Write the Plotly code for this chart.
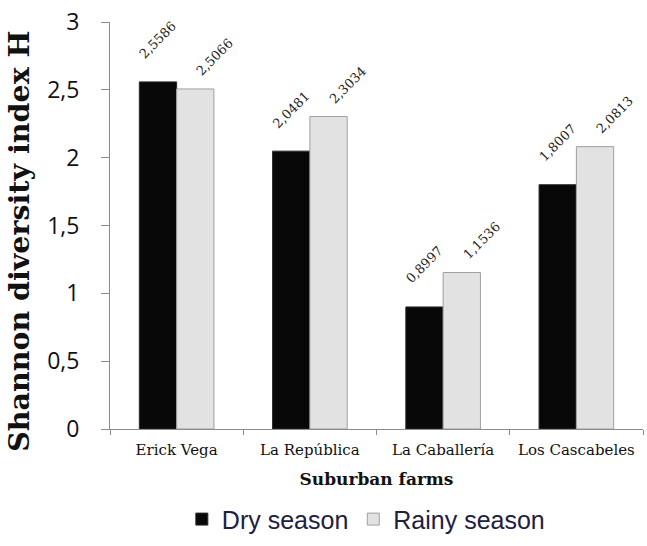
import plotly.graph_objects as go

farms = ["Erick Vega", "La República", "La Caballería", "Los Cascabeles"]
dry = [2.5586, 2.0481, 0.8997, 1.8007]
rainy = [2.5066, 2.3034, 1.1536, 2.0813]
dry_labels = ["2,5586", "2,0481", "0,8997", "1,8007"]
rainy_labels = ["2,5066", "2,3034", "1,1536", "2,0813"]

fig = go.Figure()
fig.add_trace(go.Bar(
    x=farms, y=dry, name="Dry season",
    marker=dict(color="#080808", line=dict(color="#2a2a2a", width=1)),
))
fig.add_trace(go.Bar(
    x=farms, y=rainy, name="Rainy season",
    marker=dict(color="#e2e2e2", line=dict(color="#a0a0a0", width=1)),
))

label_font = dict(family="DejaVu Serif", size=13, color="#222")
for f, v, t in zip(farms, dry, dry_labels):
    fig.add_annotation(x=f, y=v, text=t, showarrow=False, textangle=-45,
                       xanchor="center", yanchor="middle", xshift=-18.5, yshift=42,
                       font=label_font)
for f, v, t in zip(farms, rainy, rainy_labels):
    fig.add_annotation(x=f, y=v, text=t, showarrow=False, textangle=-45,
                       xanchor="center", yanchor="middle", xshift=38.5, yshift=32,
                       font=label_font)

fig.add_annotation(xref="paper", yref="paper", x=-0.171, y=0.462,
                   text="<b>Shannon diversity index H</b>", showarrow=False,
                   textangle=-90, xanchor="center", yanchor="middle",
                   font=dict(family="DejaVu Serif", size=28.5, color="#111"))

fig.update_layout(
    width=647, height=546,
    paper_bgcolor="white", plot_bgcolor="white",
    margin=dict(l=110, r=4, t=22, b=114),
    barmode="group", bargap=0.44, bargroupgap=0.0,
    separators=",.",
    showlegend=True,
    legend=dict(orientation="h", x=0.48, xanchor="center", xref="paper",
                y=-0.222, yanchor="middle",
                font=dict(family="Liberation Sans", size=25, color="#202040"),
                traceorder="normal"),
    xaxis=dict(
        automargin=False,
        showline=True, linecolor="#8c8c8c", linewidth=1,
        ticks="outside", tickson="boundaries", tickcolor="#8c8c8c", ticklen=5,
        ticklabelstandoff=7,
        tickfont=dict(family="DejaVu Serif", size=15, color="#111"),
        title=dict(text="<b>Suburban farms</b>", standoff=15,
                   font=dict(family="DejaVu Serif", size=17, color="#111")),
    ),
    yaxis=dict(
        automargin=False,
        range=[0, 3], dtick=0.5, showgrid=False, zeroline=False,
        showline=True, linecolor="#8c8c8c", linewidth=1,
        ticks="outside", tickcolor="#8c8c8c", ticklen=8, ticklabelstandoff=17,
        tickfont=dict(family="Open Sans", size=23, color="#111"),
    ),
)

fig.write_html(
    "out.html",
    config={"displayModeBar": False},
    post_script="document.body.style.margin='0';document.body.style.overflow='hidden';",
)
